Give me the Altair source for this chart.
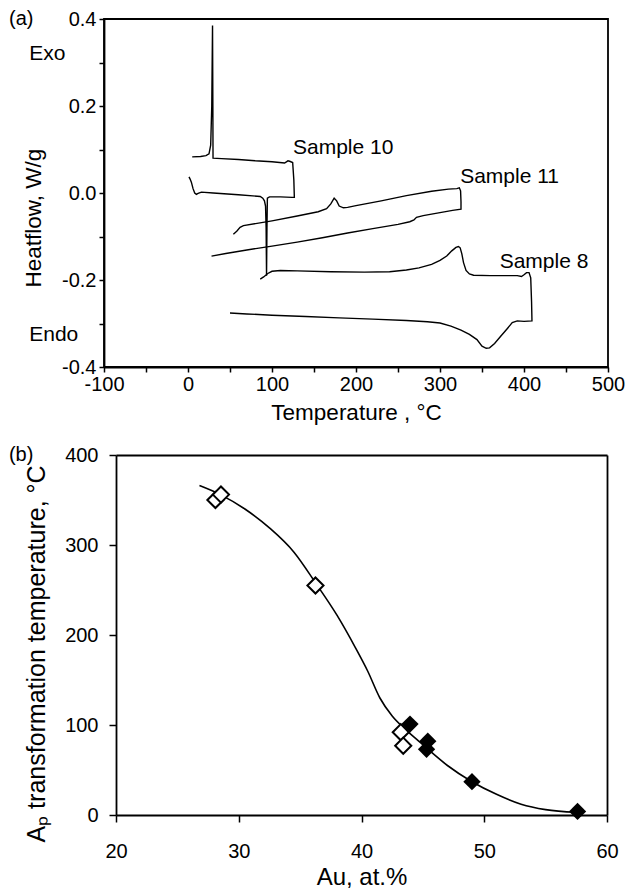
import altair as alt
import pandas as pd

FONT = "Liberation Sans"

# ---------------- Panel (a): DSC heat-flow traces ----------------
s10_T = [5, 15, 21.4, 25, 27, 28.3, 29.2, 29.6, 29.8, 40, 60, 80, 100, 115, 119, 121, 124.6,
         126, 126.6, 124, 110, 97, 94.5, 94, 93.5, 93.0, 92.3, 91, 89, 86, 60, 30, 16,
         12, 10, 8, 6, 4, 2.5, 1.2]
s10_H = [0.083, 0.084, 0.086, 0.090, 0.11, 0.20, 0.385, 0.20, 0.080, 0.079, 0.077, 0.074, 0.072,
         0.069, 0.074, 0.073, 0.070, 0.03, -0.010, -0.010, -0.009, -0.009, -0.012, -0.08, -0.19,
         -0.08, -0.03, -0.018, -0.012, -0.008, -0.004, 0.0, 0.002, -0.001, -0.003, 0.0, 0.01,
         0.025, 0.032, 0.037]

s11_T = [54, 58, 62, 66, 100, 130, 155, 165, 170, 174, 177, 180, 185, 190, 200, 230, 260, 290,
         310, 320, 323, 324.5, 325, 325, 315, 300, 280, 272, 269, 264, 250, 220, 190, 160, 130,
         100, 70, 45, 28]
s11_H = [-0.095, -0.088, -0.079, -0.075, -0.064, -0.053, -0.043, -0.036, -0.025, -0.012, -0.018,
         -0.030, -0.034, -0.033, -0.029, -0.018, -0.006, 0.004, 0.009, 0.010, 0.012, 0.005, -0.02,
         -0.037, -0.040, -0.045, -0.052, -0.056, -0.062, -0.066, -0.072, -0.082, -0.092, -0.103,
         -0.113, -0.122, -0.131, -0.139, -0.145]

s8_T = [86, 90, 95, 100, 110, 130, 170, 210, 240, 260, 275, 290, 300, 308, 314, 319, 322, 324,
        326, 328, 331, 335, 340, 360, 380, 392, 397, 400, 403, 406, 408, 409, 409.5, 400, 392,
        386, 380, 372, 365, 359, 355, 350, 344, 335, 325, 313, 300, 285, 260, 220, 180, 140,
        100, 70, 50]
s8_H = [-0.198, -0.193, -0.185, -0.180, -0.178, -0.179, -0.181, -0.182, -0.181, -0.177, -0.172,
        -0.164, -0.155, -0.145, -0.133, -0.125, -0.123, -0.126, -0.140, -0.160, -0.178, -0.186,
        -0.189, -0.190, -0.190, -0.190, -0.192, -0.188, -0.183, -0.183, -0.195, -0.25, -0.294,
        -0.295, -0.294, -0.298, -0.312, -0.330, -0.346, -0.356, -0.357, -0.352, -0.337, -0.325,
        -0.315, -0.306, -0.299, -0.296, -0.293, -0.290, -0.287, -0.284, -0.281, -0.278, -0.276]

sample_names = ["Sample 10", "Sample 11", "Sample 8"]
sample_label_T = [125, 324, 371]
sample_label_H = [0.104, 0.037, -0.158]

side_labels = ["Exo", "Endo"]
side_T = [-189, -189]
side_H = [0.32, -0.327]

panel_a_tag = ["(a)"]
panel_a_tag_T = [-213]
panel_a_tag_H = [0.4]

xa_ticks = [-100, -50, 0, 50, 100, 150, 200, 250, 300, 350, 400, 450, 500]
ya_ticks = [-0.4, -0.3, -0.2, -0.1, 0.0, 0.1, 0.2, 0.3, 0.4]

# ---------------- Panel (b): Ap vs Au content ----------------
open_au = [28.1, 28.55, 36.25, 43.2, 43.4]
open_ap = [350, 356, 255, 92, 77]
filled_au = [43.95, 45.4, 45.3, 49.0, 57.6]
filled_ap = [101, 82, 73, 37, 4]

fit_au = [26.8, 28.5, 30.5, 32.5, 34.5, 36.3, 38.0, 39.5, 40.5, 41.5, 42.5, 43.5, 44.5, 45.5,
          47.0, 49.0, 51.0, 53.0, 55.0, 57.5]
fit_ap = [366, 356, 340, 319, 292, 257, 222, 186, 160, 130, 110, 96, 84, 72, 55, 37, 23, 12, 6, 3]

panel_b_tag = ["(b)"]
panel_b_tag_au = [11.28]
panel_b_tag_ap = [400]

xb_ticks = [20, 30, 40, 50, 60]
yb_ticks = [0, 100, 200, 300, 400]

# ---------------- build tables ----------------
rows = []
for name, Ts, Hs in [("Sample 10", s10_T, s10_H), ("Sample 11", s11_T, s11_H), ("Sample 8", s8_T, s8_H)]:
    for i, (t, h) in enumerate(zip(Ts, Hs)):
        rows.append({"sample": name, "order": i, "T": t, "H": h})
df_a = pd.DataFrame(rows)
df_lab = pd.DataFrame({"txt": sample_names, "T": sample_label_T, "H": sample_label_H})
df_side = pd.DataFrame({"txt": side_labels, "T": side_T, "H": side_H})
df_tag_a = pd.DataFrame({"txt": panel_a_tag, "T": panel_a_tag_T, "H": panel_a_tag_H})

MINUS = "\u2212"

xa = alt.X("T:Q", scale=alt.Scale(domain=[-100, 500], nice=False, zero=False),
           axis=alt.Axis(title="Temperature , \u00b0C", values=xa_ticks, labelFlush=False,
                         labelExpr=f"datum.value % 100 == 0 ? replace(format(datum.value, 'd'), '{MINUS}', '-') : ''",
                         tickSize=5, labelPadding=2, titlePadding=7, titleFontSize=22.5))
ya = alt.Y("H:Q", scale=alt.Scale(domain=[-0.4, 0.4], nice=False, zero=False),
           axis=alt.Axis(title="Heatflow, W/g", values=ya_ticks, labelFlush=False,
                         labelExpr=f"abs(round(datum.value * 10)) % 2 == 0 ? replace(format(datum.value, '.1f'), '{MINUS}', '-') : ''",
                         tickSize=5, labelPadding=3, titlePadding=16, titleFontSize=22.5,
                         titleY=268, titleAlign="left"))

lines_a = alt.Chart(df_a).mark_line(color="black", strokeWidth=1.4).encode(
    x=xa, y=ya, detail="sample:N", order="order:Q")
labels_a = alt.Chart(df_lab).mark_text(align="left", baseline="middle", fontSize=21, font=FONT,
                                       color="black").encode(x=xa, y=ya, text="txt:N")
side_a = alt.Chart(df_side).mark_text(align="left", baseline="middle", fontSize=21, font=FONT,
                                      color="black").encode(x=xa, y=ya, text="txt:N")
tag_a = alt.Chart(df_tag_a).mark_text(align="left", baseline="middle", fontSize=20, font=FONT,
                                      color="black").encode(x=xa, y=ya, text="txt:N")

panel_a = alt.layer(lines_a, labels_a, side_a, tag_a).properties(width=504, height=348)

df_open = pd.DataFrame({"Au": open_au, "Ap": open_ap})
df_fill = pd.DataFrame({"Au": filled_au, "Ap": filled_ap})
df_fit = pd.DataFrame({"Au": fit_au, "Ap": fit_ap})
df_tag_b = pd.DataFrame({"txt": panel_b_tag, "Au": panel_b_tag_au, "Ap": panel_b_tag_ap})

# panel (b) plot area sits 12 px right of panel (a)'s: shift its x range inside the group
sc_xb = alt.Scale(domain=[20, 60], range=[12, 503], nice=False, zero=False)
sc_yb = alt.Scale(domain=[0, 400], nice=False, zero=False)

xb = alt.X("Au:Q", scale=sc_xb,
           axis=alt.Axis(title="Au, at.%", values=xb_ticks, labelFlush=False, tickSize=7,
                         labelPadding=19, titlePadding=4, titleFontSize=24))
yb = alt.Y("Ap:Q", scale=sc_yb,
           axis=alt.Axis(title="A\u209a transformation temperature, \u00b0C", values=yb_ticks,
                         labelFlush=False, tickSize=7, labelPadding=11, titlePadding=15,
                         titleFontSize=25, titleY=387, titleAlign="left", offset=-12))
xb_plain = alt.X("Au:Q", scale=sc_xb, axis=None)
yb_plain = alt.Y("Ap:Q", scale=sc_yb, axis=None)
xb_top = alt.X("Au:Q", scale=sc_xb,
               axis=alt.Axis(orient="top", title="", labels=False, ticks=False, values=xb_ticks))
yb_right = alt.Y("Ap:Q", scale=sc_yb,
                 axis=alt.Axis(orient="right", title="", labels=False, ticks=False, values=yb_ticks))

fit_b = alt.Chart(df_fit).mark_line(color="black", strokeWidth=1.6, interpolate="monotone").encode(x=xb, y=yb)
frame_b = alt.Chart(df_fit).mark_line(opacity=0).encode(x=xb_top, y=yb_right)
open_b = alt.Chart(df_open).mark_point(shape="diamond", size=260, filled=True, fill="white",
                                       stroke="black", strokeWidth=2, opacity=1).encode(x=xb_plain, y=yb_plain)
fill_b = alt.Chart(df_fill).mark_point(shape="diamond", size=300, filled=True, color="black",
                                       opacity=1).encode(x=xb_plain, y=yb_plain)
tag_b = alt.Chart(df_tag_b).mark_text(align="left", baseline="middle", fontSize=20, font=FONT,
                                      color="black").encode(x=xb_plain, y=yb_plain, text="txt:N")

panel_b = alt.layer(fit_b, frame_b, open_b, fill_b, tag_b).resolve_axis(
    x="independent", y="independent"
).properties(width=503, height=360, view=alt.ViewBackground(stroke="transparent"))

chart = alt.concat(panel_a, panel_b, columns=1, spacing=19).properties(
    padding=0, background="white"
).configure_view(stroke="black", strokeWidth=1.8).configure_axis(
    domainColor="black", domainWidth=1.8, tickColor="black", tickWidth=1.5,
    labelFont=FONT, labelFontSize=20, labelColor="black",
    titleFont=FONT, titleFontSize=22, titleFontWeight="normal", titleColor="black",
    grid=False
)

chart.save("out.html", embed_options={"renderer": "svg", "actions": False})
